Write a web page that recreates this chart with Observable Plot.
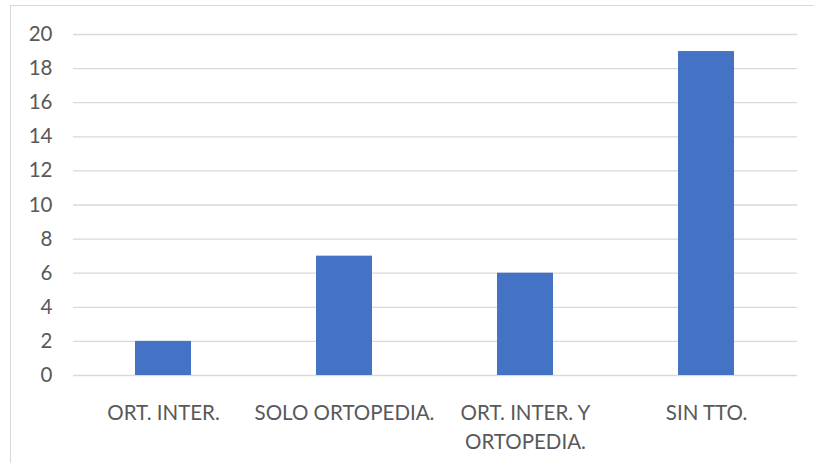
<!DOCTYPE html>
<html>
<head>
<meta charset="utf-8">
<script src="https://cdn.jsdelivr.net/npm/d3@7"></script>
<script src="https://cdn.jsdelivr.net/npm/@observablehq/plot@0.6"></script>
<style>
  html, body { margin: 0; padding: 0; background: #fff; overflow: hidden; }
  #wrap { position: relative; width: 814px; height: 463px; overflow: hidden; }
  #box { position: absolute; left: 10px; top: 5px; width: 900px; height: 600px;
         border: 1px solid #d9d9d9; box-sizing: border-box; }
  #chart { position: absolute; left: 0; top: 0; }
</style>
</head>
<body>
<div id="wrap"><div id="box"></div><div id="chart"></div></div>
<script>
// Treatment groups and patient counts
const categories = ["ORT. INTER.", "SOLO ORTOPEDIA.", "ORT. INTER. Y\nORTOPEDIA.", "SIN TTO."];
const counts = [2, 7, 6, 19];
const yTicks = [0, 2, 4, 6, 8, 10, 12, 14, 16, 18, 20];

const data = categories.map((c, i) => ({category: c, count: counts[i]}));

const font = "Lato, 'Open Sans', sans-serif";
const ink = "#595959";

const chart = Plot.plot({
  width: 814,
  height: 463,
  marginLeft: 73,
  marginRight: 17,
  marginTop: 34,
  marginBottom: 88,
  style: {fontFamily: font, background: "transparent"},
  x: {domain: categories, paddingInner: 0.69, paddingOuter: 0.345, label: null},
  y: {domain: [0, 20], label: null},
  marks: [
    Plot.ruleY(yTicks, {stroke: "#d9d9d9", strokeWidth: 1.3}),
    Plot.barY(data, {x: "category", y: "count", fill: "#4472c4"}),
    Plot.axisY(yTicks, {tickSize: 0, tickPadding: 21, fontSize: 20.5, fill: ink, label: null}),
    Plot.axisX({tickSize: 0, tickPadding: 23, fontSize: 20.5, fill: ink, lineHeight: 1.45, label: null})
  ]
});
document.getElementById("chart").appendChild(chart);
</script>
</body>
</html>
